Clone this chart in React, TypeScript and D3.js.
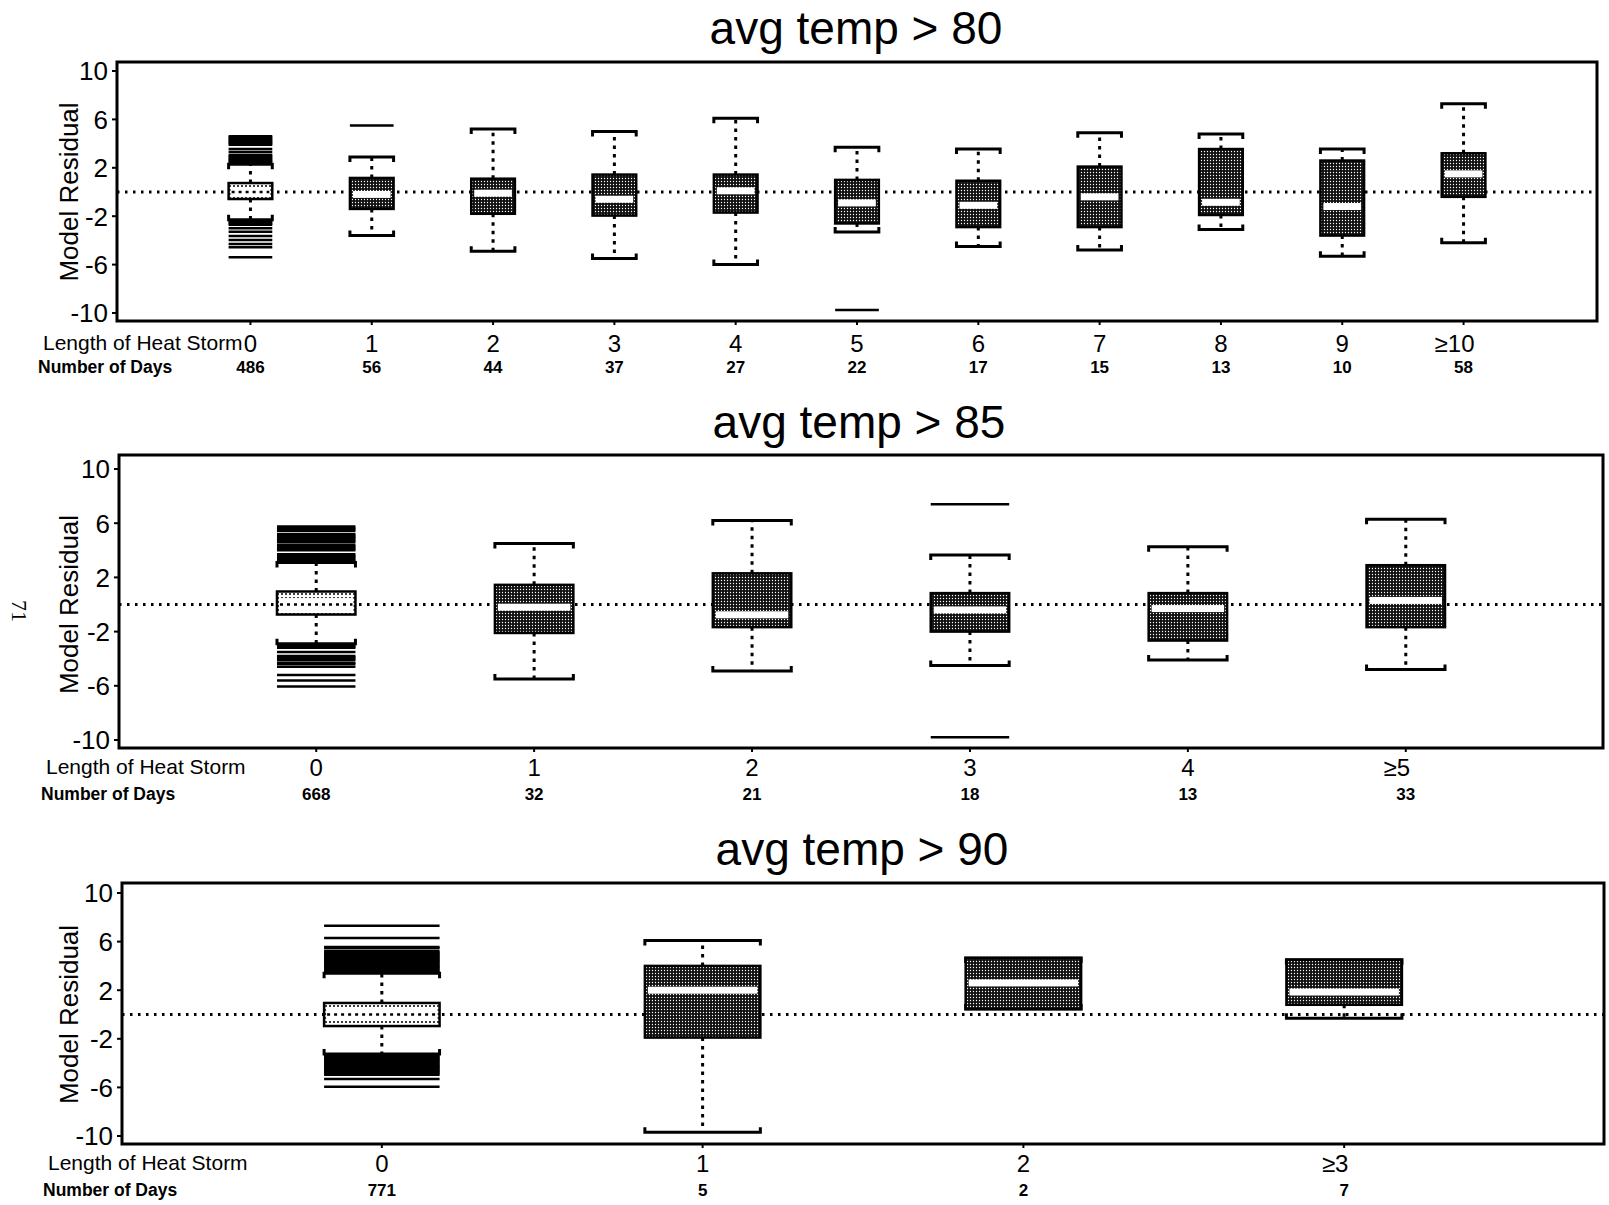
import React from 'react';
import * as d3 from 'd3';

// y axis ticks shared by the three panels
const yTicks = [10, 6, 2, -2, -6, -10];

// avg temp > 80
const cats80 = ['0', '1', '2', '3', '4', '5', '6', '7', '8', '9', '≥10'];
const days80 = [486, 56, 44, 37, 27, 22, 17, 15, 13, 10, 58];
const hi80 = [2.3, 2.9, 5.2, 5.0, 6.1, 3.7, 3.55, 4.9, 4.8, 3.55, 7.3];
const q3_80 = [0.74, 1.16, 1.1, 1.44, 1.44, 1.0, 0.93, 2.1, 3.55, 2.6, 3.2];
const med80 = [0, -0.2, -0.1, -0.6, 0.1, -0.9, -1.1, -0.4, -0.85, -1.2, 1.5];
const q1_80 = [-0.58, -1.4, -1.8, -1.95, -1.7, -2.6, -2.9, -2.9, -1.9, -3.6, -0.4];
const lo80 = [-2.3, -3.6, -4.9, -5.5, -6.0, -3.3, -4.5, -4.8, -3.1, -5.3, -4.2];
const out80 = [
  [4.6, 4.5, 4.4, 4.3, 4.2, 4.1, 4.0, 3.9, 3.55, 3.3, 3.05, 2.95, 2.85, 2.75, 2.65, 2.55, 2.45,
    -2.4, -2.5, -2.6, -2.7, -3.0, -3.28, -3.64, -3.97, -4.3, -4.57, -5.4],
  [5.5], [], [], [], [-9.75], [], [], [], [], [],
];

// avg temp > 85
const cats85 = ['0', '1', '2', '3', '4', '≥5'];
const days85 = [668, 32, 21, 18, 13, 33];
const hi85 = [3.1, 4.5, 6.2, 3.65, 4.26, 6.3];
const q3_85 = [0.96, 1.45, 2.3, 0.84, 0.84, 2.9];
const med85 = [0, -0.2, -0.76, -0.4, -0.3, 0.3];
const q1_85 = [-0.74, -2.1, -1.67, -2.0, -2.66, -1.67];
const lo85 = [-2.9, -5.5, -4.9, -4.5, -4.1, -4.8];
const out85 = [
  [5.75, 5.65, 5.55, 5.45, 5.2, 5.1, 5.0, 4.9, 4.8, 4.7, 4.6, 4.4, 4.3, 4.2, 4.1, 4.0,
    3.7, 3.6, 3.5, 3.4, 3.3, 3.2,
    -3.0, -3.1, -3.2, -3.5, -3.8, -3.9, -4.0, -4.1, -4.3, -4.4, -4.6, -5.2, -5.6, -6.05],
  [], [], [7.4, -9.8], [], [],
];

// avg temp > 90
const cats90 = ['0', '1', '2', '≥3'];
const days90 = [771, 5, 2, 7];
const hi90 = [3.4, 6.1, 4.65, 4.5];
const q3_90 = [0.95, 4.0, 4.65, 4.5];
const med90 = [0, 2.0, 2.6, 1.85];
const q1_90 = [-0.95, -1.9, 0.45, 0.8];
const lo90 = [-3.25, -9.7, 0.45, -0.3];
const out90 = [
  [7.3, 6.3, 5.55, 5.45, 5.2, 5.1, 5.0, 4.9, 4.8, 4.7, 4.6, 4.5, 4.4, 4.3, 4.2, 4.1, 4.0, 3.9, 3.8, 3.7, 3.6, 3.5,
    -3.35, -3.45, -3.55, -3.65, -3.75, -3.85, -3.95, -4.05, -4.15, -4.25, -4.35, -4.45, -4.55, -4.65, -4.75, -4.85, -4.95,
    -5.3, -5.95],
  [], [], [],
];

const font = '"Liberation Sans", Arial, Helvetica, sans-serif';

const panels = [
  {
    title: 'avg temp > 80', cats: cats80, days: days80, hi: hi80, q3: q3_80, med: med80, q1: q1_80, lo: lo80, out: out80,
    left: 117, right: 1597, top: 62, bottom: 321, y10: 71, yM10: 313, pad: 1.1,
    titleX: 856, titleY: 44, labY: 352, cntY: 373, lenX: 43, numX: 38,
  },
  {
    title: 'avg temp > 85', cats: cats85, days: days85, hi: hi85, q3: q3_85, med: med85, q1: q1_85, lo: lo85, out: out85,
    left: 119, right: 1603, top: 455, bottom: 748, y10: 469, yM10: 740, pad: 0.905,
    titleX: 859, titleY: 438, labY: 776, cntY: 800, lenX: 46, numX: 41,
  },
  {
    title: 'avg temp > 90', cats: cats90, days: days90, hi: hi90, q3: q3_90, med: med90, q1: q1_90, lo: lo90, out: out90,
    left: 122, right: 1604, top: 883, bottom: 1144, y10: 893, yM10: 1136, pad: 0.81,
    titleX: 862, titleY: 865, labY: 1172, cntY: 1196, lenX: 48, numX: 43,
  },
];

const Panel = ({ p }) => {
  const x = d3.scalePoint().domain(p.cats).range([p.left, p.right]).padding(p.pad);
  const y = d3.scaleLinear().domain([-10, 10]).range([p.yM10, p.y10]);
  const w = x.step() * 0.36;
  const midY = (p.y10 + p.yM10) / 2;

  return (
    <g>
      <text x={p.titleX} y={p.titleY} textAnchor="middle" fontSize={46} fontFamily={font}>{p.title}</text>

      {/* zero reference line */}
      <line x1={p.left} x2={p.right} y1={y(0)} y2={y(0)} stroke="#000" strokeWidth={3}
        strokeDasharray="2.5,5.5" />

      {p.cats.map((c, i) => {
        const cx = x(c);
        const x0 = cx - w / 2;
        const x1 = cx + w / 2;
        const top = y(p.q3[i]);
        const bot = y(p.q1[i]);
        const first = i === 0;
        return (
          <g key={c}>
            {p.hi[i] > p.q3[i] && (
              <line x1={cx} x2={cx} y1={top} y2={y(p.hi[i])} stroke="#000" strokeWidth={3} strokeDasharray="3.5,5" />
            )}
            {p.lo[i] < p.q1[i] && (
              <line x1={cx} x2={cx} y1={bot} y2={y(p.lo[i])} stroke="#000" strokeWidth={3} strokeDasharray="3.5,5" />
            )}
            <path d={`M${x0},${y(p.hi[i]) + 5}V${y(p.hi[i])}H${x1}V${y(p.hi[i]) + 5}`} fill="none" stroke="#000" strokeWidth={3} />
            <path d={`M${x0},${y(p.lo[i]) - 5}V${y(p.lo[i])}H${x1}V${y(p.lo[i]) - 5}`} fill="none" stroke="#000" strokeWidth={3} />
            {p.out[i].map((v, k) => (
              <line key={k} x1={x0} x2={x1} y1={y(v)} y2={y(v)} stroke="#000" strokeWidth={2.5} />
            ))}
            <rect x={x0} y={top} width={w} height={bot - top} fill={first ? 'url(#light)' : 'url(#dark)'}
              stroke="#000" strokeWidth={2.5} />
            {first ? (
              <g>
                <rect x={x0 + 2} y={y(p.med[i]) - (bot - top) * 0.28} width={w - 4} height={(bot - top) * 0.56} fill="#fff" />
                <line x1={x0 + 3} x2={x1 - 3} y1={y(p.med[i])} y2={y(p.med[i])} stroke="#000" strokeWidth={2.5}
                  strokeDasharray="3,4" />
              </g>
            ) : (
              <rect x={x0 + 3} y={y(p.med[i]) - 3.5} width={w - 6} height={7} fill="#fff" />
            )}
            <line x1={cx} x2={cx} y1={p.bottom} y2={p.bottom + 4} stroke="#000" strokeWidth={2} />
            <text x={c.startsWith('≥') ? cx - 9 : cx} y={p.labY} textAnchor="middle" fontSize={24} fontFamily={font}>{c}</text>
            <text x={cx} y={p.cntY} textAnchor="middle" fontSize={17} fontWeight="bold" fontFamily={font}>{p.days[i]}</text>
          </g>
        );
      })}

      <rect x={p.left} y={p.top} width={p.right - p.left} height={p.bottom - p.top} fill="none" stroke="#000" strokeWidth={3} />

      {yTicks.map((t) => (
        <g key={t}>
          <line x1={p.left - 5} x2={p.left} y1={y(t)} y2={y(t)} stroke="#000" strokeWidth={2} />
          <text x={p.left - 9} y={y(t)} dy="0.36em" textAnchor="end" fontSize={26} fontFamily={font}>{t}</text>
        </g>
      ))}
      <text transform={`translate(78,${midY}) rotate(-90)`} textAnchor="middle" fontSize={26} fontFamily={font}>Model Residual</text>

      <text x={p.lenX} y={p.labY - 2} fontSize={21} fontFamily={font}>Length of Heat Storm</text>
      <text x={p.numX} y={p.cntY} fontSize={17.5} fontWeight="bold" fontFamily={font}>Number of Days</text>
    </g>
  );
};

export default function App() {
  return (
    <svg width={1609} height={1205} style={{ position: 'absolute', left: 0, top: 0, background: '#fff' }}>
      <defs>
        <pattern id="dark" width={3} height={3} patternUnits="userSpaceOnUse">
          <rect width={3} height={3} fill="#111" />
          <circle cx={1.5} cy={1.5} r={0.65} fill="#fff" />
        </pattern>
        <pattern id="light" width={4} height={4} patternUnits="userSpaceOnUse">
          <rect width={4} height={4} fill="#fff" />
          <circle cx={2} cy={2} r={1} fill="#000" />
        </pattern>
      </defs>
      <rect width={1609} height={1205} fill="#fff" />
      {panels.map((p) => (
        <Panel key={p.title} p={p} />
      ))}
      <text transform="translate(12,600) rotate(90)" fontSize={22} fontFamily="'Liberation Serif', serif">71</text>
    </svg>
  );
}
